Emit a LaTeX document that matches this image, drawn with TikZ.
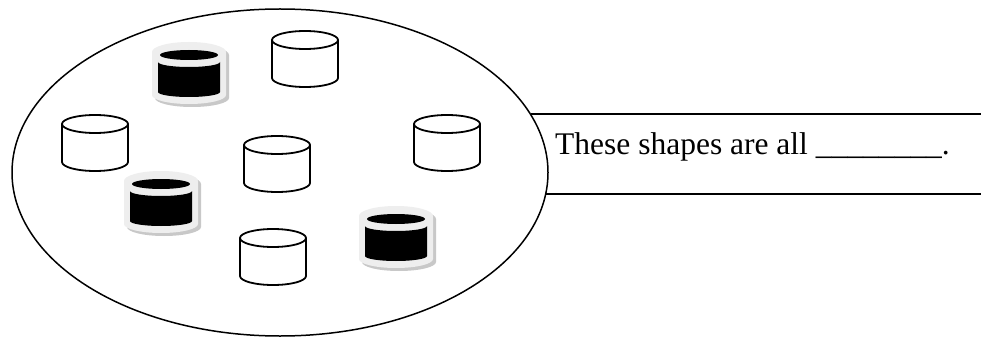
\documentclass[tikz,border=0pt]{standalone}
\usepackage{fontspec}
\setmainfont{Liberation Serif}
\definecolor{halo}{RGB}{238,238,238}
\definecolor{haloshadow}{RGB}{200,200,200}
\begin{document}
\begin{tikzpicture}[x=1pt,y=-1pt,
  outline/.style={line width=1.5pt,black},
  rule/.style={line width=2.6pt,black},
  cylline/.style={line width=1.8pt,black,line join=round},
  wcyl/.pic={
    \fill[white] (-33,-19) arc[start angle=180,end angle=360,x radius=33,y radius=9]
       -- (33,19) arc[start angle=0,end angle=180,x radius=33,y radius=9] -- cycle;
    \draw[cylline] (-33,-19) -- (-33,19) arc[start angle=180,end angle=0,x radius=33,y radius=9] -- (33,-19);
    \draw[cylline] (0,-19) ellipse[x radius=33,y radius=9];
  },
  bcyl/.pic={
    \fill[haloshadow] (-34,-19) arc[start angle=180,end angle=360,x radius=37,y radius=10]
       -- (40,24) arc[start angle=0,end angle=180,x radius=37,y radius=9] -- cycle;
    \fill[halo] (-37,-22) arc[start angle=180,end angle=360,x radius=37,y radius=10]
       -- (37,21) arc[start angle=0,end angle=180,x radius=37,y radius=9] -- cycle;
    \fill[black] (0,-19) ellipse[x radius=29,y radius=5];
    \fill[black] (-31,-12) arc[start angle=180,end angle=0,x radius=31,y radius=5]
       -- (31,18) arc[start angle=0,end angle=180,x radius=31,y radius=5] -- cycle;
  }]
\useasboundingbox (0,0) rectangle (981,339);
\fill[white] (0,0) rectangle (981,339);
% big ellipse
\draw[outline] (280,172.5) ellipse[x radius=268,y radius=163.5];
% text lines
\coordinate (t1) at (530.5,114);
\coordinate (t2) at (981,114);
\coordinate (b1) at (545.5,194);
\coordinate (b2) at (981,194);
\draw[rule] (t1) -- (t2);
\draw[rule] (b1) -- (b2);
\node[anchor=base west,inner sep=0pt,font=\fontsize{31.5}{36}\selectfont] (label) at (555,154) {These shapes are all \_\_\_\_\_\_\_\_.};
% white cylinders
\pic at (305,59) {wcyl};
\pic at (95,143) {wcyl};
\pic at (277,164) {wcyl};
\pic at (447,143) {wcyl};
\pic at (273,257) {wcyl};
% black cylinders
\pic at (189,74) {bcyl};
\pic at (161,203) {bcyl};
\pic at (396,238) {bcyl};
\end{tikzpicture}
\end{document}
